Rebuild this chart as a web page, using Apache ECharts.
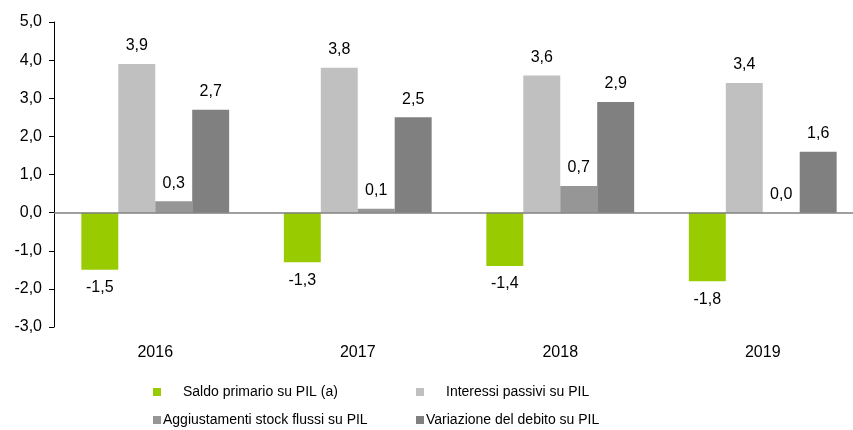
<!DOCTYPE html>
<html>
<head>
<meta charset="utf-8">
<script src="https://cdn.jsdelivr.net/npm/echarts@6/dist/echarts.min.js"></script>
<style>
  html, body { margin: 0; padding: 0; background: #fff; }
  #chart { width: 853px; height: 430px; }
</style>
</head>
<body>
<div id="chart"></div>
<script>
// dati (% del PIL)
const years = ['2016', '2017', '2018', '2019'];
const saldoPrimario = [-1.5, -1.3, -1.4, -1.8];
const interessiPassivi = [3.9, 3.8, 3.6, 3.4];
const aggiustamenti = [0.3, 0.1, 0.7, 0.0];
const variazioneDebito = [2.7, 2.5, 2.9, 1.6];

const names = [
  'Saldo primario su PIL (a)',
  'Interessi passivi su PIL',
  'Aggiustamenti stock flussi su PIL',
  'Variazione del debito su PIL'
];
const colors = ['#99cc00', '#c0c0c0', '#969696', '#808080'];
const font = 'Liberation Sans, Arial, sans-serif';

function fmt(v) {
  return v.toFixed(1).replace('.', ',');
}

function makeSeries(name, values, color, withZeroLine) {
  const s = {
    name: name,
    type: 'bar',
    barGap: '0%',
    barCategoryGap: '27%',
    itemStyle: { color: color },
    data: values.map(v => ({
      value: v,
      label: { position: v < 0 ? 'bottom' : 'top' }
    })),
    label: {
      show: true,
      distance: 10,
      color: '#000',
      fontFamily: font,
      fontSize: 16,
      formatter: p => fmt(p.value)
    }
  };
  if (withZeroLine) {
    s.markLine = {
      silent: true,
      symbol: 'none',
      label: { show: false },
      lineStyle: { color: '#7f7f7f', type: 'solid', width: 1.5 },
      data: [{ yAxis: 0 }]
    };
  }
  return s;
}

function legendAt(name, left, top, gap) {
  return {
    data: [name], left: left, top: top, padding: 0,
    itemWidth: 8, itemHeight: 8, icon: 'rect',
    textStyle: { fontFamily: font, fontSize: 14, color: '#000', padding: [0, 0, 0, gap] }
  };
}

const chart = echarts.init(document.getElementById('chart'));

chart.setOption({
  animation: false,
  grid: { left: 54, width: 810, top: 22, bottom: 103, outerBoundsMode: 'none' },
  legend: [
    legendAt(names[0], 153, 385, 17),
    legendAt(names[1], 416, 385, 17),
    legendAt(names[2], 153, 413, -3),
    legendAt(names[3], 416, 413, -3)
  ],
  xAxis: {
    type: 'category',
    data: years,
    axisLine: { show: false, onZero: false },
    axisTick: { show: false },
    axisLabel: { margin: 18, color: '#000', fontFamily: font, fontSize: 16 }
  },
  yAxis: {
    type: 'value',
    min: -3,
    max: 5,
    interval: 1,
    axisLine: { show: true, lineStyle: { color: '#000' } },
    axisTick: { show: true, length: 5, lineStyle: { color: '#000' } },
    splitLine: { show: false },
    axisLabel: { margin: 12, color: '#000', fontFamily: font, fontSize: 16, formatter: v => fmt(v) }
  },
  series: [
    makeSeries(names[0], saldoPrimario, colors[0], true),
    makeSeries(names[1], interessiPassivi, colors[1], false),
    makeSeries(names[2], aggiustamenti, colors[2], false),
    makeSeries(names[3], variazioneDebito, colors[3], false)
  ]
});
</script>
</body>
</html>
